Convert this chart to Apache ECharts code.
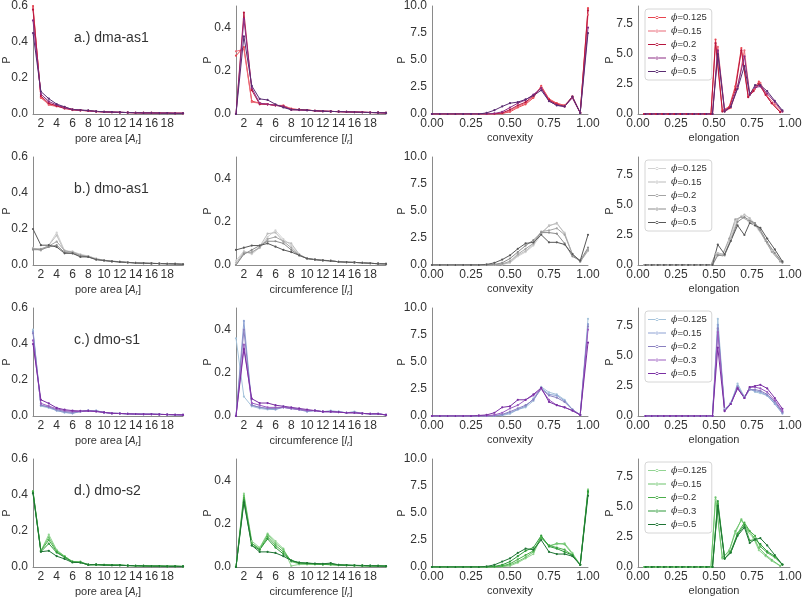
<!DOCTYPE html>
<html><head><meta charset="utf-8">
<script src="https://cdn.jsdelivr.net/npm/echarts@6/dist/echarts.min.js"></script>
<style>html,body{margin:0;padding:0;background:#fff}#c{width:803px;height:597px}</style>
</head><body><div id="c"></div>
<script>
// ---------- categories / labels ----------
const phiLabels = ['0.125', '0.15', '0.2', '0.3', '0.5'];
const rowTitles = ['a.) dma-as1', 'b.) dmo-as1', 'c.) dmo-s1', 'd.) dmo-s2'];
const sizeX = [1,2,3,4,5,6,7,8,9,10,11,12,13,14,15,16,17,18,19,20];
const convexityX = [0,0.05,0.1,0.15,0.2,0.25,0.3,0.35,0.4,0.45,0.5,0.55,0.6,0.65,0.7,0.75,0.8,0.85,0.9,0.95,1.0];
const elongXA = [0.04,0.08,0.12,0.16,0.2,0.24,0.28,0.32,0.36,0.4,0.44,0.48,0.51,0.555,0.6,0.64,0.68,0.725,0.76,0.795,0.84,0.88,0.935];
const elongXB = [0.05,0.09,0.13,0.17,0.21,0.25,0.29,0.33,0.37,0.41,0.45,0.49,0.525,0.57,0.61,0.655,0.7,0.735,0.77,0.805,0.85,0.9,0.95];
// which elongation grid each series uses (per row)
const elongGridUse = [
  ['A','B','A','B','B'],
  ['A','B','A','B','B'],
  ['B','B','B','B','B'],
  ['A','A','B','B','B']
];

// ---------- a.) dma-as1 ----------
const dmaAs1Area = [
  [0.60,0.090,0.055,0.045,0.038,0.025,0.020,0.018,0.014,0.012,0.010,0.009,0.008,0.007,0.006,0.006,0.005,0.005,0.004,0.004],
  [0.59,0.095,0.050,0.042,0.035,0.022,0.020,0.017,0.013,0.011,0.010,0.009,0.008,0.007,0.006,0.005,0.005,0.004,0.004,0.004],
  [0.58,0.100,0.060,0.045,0.030,0.024,0.021,0.018,0.014,0.012,0.010,0.009,0.008,0.007,0.006,0.006,0.005,0.005,0.004,0.004],
  [0.52,0.110,0.070,0.050,0.035,0.025,0.021,0.018,0.014,0.012,0.010,0.009,0.008,0.007,0.006,0.006,0.005,0.005,0.004,0.004],
  [0.45,0.125,0.085,0.055,0.040,0.025,0.022,0.020,0.015,0.012,0.011,0.010,0.008,0.007,0.006,0.006,0.005,0.005,0.004,0.004]
];
const dmaAs1Circ = [
  [0.27,0.31,0.06,0.05,0.045,0.04,0.038,0.025,0.02,0.018,0.015,0.013,0.012,0.011,0.01,0.009,0.008,0.007,0.006,0.005],
  [0.29,0.30,0.055,0.05,0.045,0.04,0.04,0.022,0.02,0.018,0.015,0.013,0.012,0.011,0.01,0.009,0.008,0.007,0.007,0.005],
  [0.0,0.47,0.11,0.045,0.045,0.04,0.035,0.02,0.02,0.018,0.015,0.013,0.012,0.011,0.01,0.009,0.008,0.007,0.006,0.005],
  [0.0,0.44,0.12,0.05,0.045,0.04,0.035,0.02,0.018,0.017,0.015,0.013,0.012,0.011,0.01,0.009,0.008,0.007,0.006,0.005],
  [0.0,0.36,0.13,0.07,0.065,0.045,0.03,0.02,0.02,0.018,0.015,0.013,0.012,0.011,0.01,0.009,0.008,0.007,0.006,0.005]
];
const dmaAs1Conv = [
  [0,0,0,0,0,0,0,0,0,0.05,0.2,0.6,0.9,1.5,2.6,1.4,1.0,0.8,1.6,0.1,9.8],
  [0,0,0,0,0,0,0,0,0,0.05,0.3,0.7,1.0,1.6,2.5,1.3,0.9,0.8,1.5,0.1,9.2],
  [0,0,0,0,0,0,0,0,0.02,0.1,0.4,0.8,1.1,1.7,2.4,1.3,0.9,0.7,1.6,0.1,9.6],
  [0,0,0,0,0,0,0,0,0.05,0.2,0.6,1.0,1.3,1.8,2.4,1.2,0.8,0.7,1.5,0.1,8.0],
  [0,0,0,0,0,0,0,0.1,0.35,0.7,1.0,1.1,1.35,1.7,2.2,1.2,0.8,0.7,1.6,0.1,7.5]
];
const dmaAs1Elong = [
  [0,0,0,0,0,0,0,0,0,0,0,0,6.2,0.3,0.6,2.3,5.5,1.5,2.0,2.7,1.6,0.9,0.2],
  [0,0,0,0,0,0,0,0,0,0,0,0,5.6,0.2,0.5,2.2,5.3,1.6,2.1,2.6,1.5,0.8,0.2],
  [0,0,0,0,0,0,0,0,0,0,0,0,5.9,0.2,0.5,2.0,5.3,1.4,1.9,2.5,1.6,0.9,0.15],
  [0,0,0,0,0,0,0,0,0,0,0,0,5.3,0.3,0.6,2.3,4.8,1.7,2.2,2.3,1.7,1.0,0.2],
  [0,0,0,0,0,0,0,0,0,0,0,0,5.0,0.2,0.6,2.1,4.0,1.6,2.4,2.4,1.9,1.1,0.3]
];

// ---------- b.) dmo-as1 ----------
const dmoAs1Area = [
  [0.09,0.085,0.11,0.18,0.08,0.075,0.06,0.05,0.035,0.027,0.022,0.018,0.015,0.012,0.01,0.009,0.008,0.007,0.006,0.004],
  [0.095,0.08,0.11,0.165,0.075,0.075,0.055,0.05,0.035,0.026,0.022,0.018,0.015,0.012,0.01,0.009,0.008,0.007,0.006,0.004],
  [0.09,0.09,0.105,0.13,0.08,0.07,0.055,0.045,0.032,0.025,0.021,0.017,0.014,0.012,0.01,0.009,0.008,0.007,0.006,0.004],
  [0.085,0.085,0.1,0.11,0.07,0.065,0.05,0.045,0.03,0.025,0.02,0.017,0.014,0.012,0.01,0.009,0.008,0.007,0.006,0.004],
  [0.2,0.11,0.11,0.1,0.065,0.065,0.045,0.045,0.03,0.025,0.02,0.017,0.014,0.011,0.01,0.009,0.008,0.007,0.006,0.004]
];
const dmoAs1Circ = [
  [0.02,0.065,0.05,0.08,0.13,0.16,0.12,0.09,0.05,0.03,0.025,0.022,0.02,0.015,0.013,0.012,0.01,0.008,0.006,0.005],
  [0.01,0.06,0.055,0.085,0.145,0.15,0.11,0.1,0.05,0.03,0.025,0.022,0.02,0.015,0.013,0.012,0.01,0.008,0.006,0.005],
  [0.0,0.055,0.06,0.08,0.12,0.13,0.11,0.08,0.045,0.03,0.025,0.022,0.019,0.015,0.013,0.012,0.01,0.008,0.006,0.005],
  [0.0,0.05,0.07,0.09,0.11,0.11,0.1,0.07,0.045,0.03,0.025,0.021,0.019,0.015,0.013,0.012,0.01,0.008,0.006,0.005],
  [0.07,0.08,0.09,0.09,0.1,0.085,0.07,0.06,0.045,0.03,0.025,0.021,0.019,0.015,0.013,0.012,0.01,0.008,0.006,0.005]
];
const dmoAs1Conv = [
  [0,0,0,0,0,0,0,0,0,0.05,0.2,0.8,1.2,1.8,2.8,3.7,3.8,3.0,1.0,0.3,1.5],
  [0,0,0,0,0,0,0,0,0,0.05,0.25,0.9,1.3,1.9,3.0,3.6,3.9,2.9,1.0,0.3,1.3],
  [0,0,0,0,0,0,0,0,0.02,0.1,0.35,1.0,1.5,2.0,3.1,3.2,3.4,2.8,1.0,0.3,1.4],
  [0,0,0,0,0,0,0,0,0.05,0.2,0.6,1.2,1.8,2.3,3.0,3.0,2.9,2.0,0.8,0.4,1.6],
  [0,0,0,0,0,0,0,0.05,0.2,0.5,0.9,1.5,2.0,2.1,2.8,2.1,2.1,1.9,1.0,0.4,2.8]
];
const dmoAs1Elong = [
  [0,0,0,0,0,0,0,0,0,0,0,0,0.9,0.9,2.0,3.6,4.1,3.8,3.4,2.9,2.0,1.2,0.3],
  [0,0,0,0,0,0,0,0,0,0,0,0,1.0,0.9,2.2,3.8,4.2,3.9,3.4,2.8,1.8,0.9,0.2],
  [0,0,0,0,0,0,0,0,0,0,0,0,0.9,0.8,2.2,3.8,4.0,3.7,3.5,3.0,2.0,1.1,0.3],
  [0,0,0,0,0,0,0,0,0,0,0,0,0.8,0.8,2.0,3.6,4.0,3.7,3.5,2.9,1.9,1.0,0.2],
  [0,0,0,0,0,0,0,0,0,0,0,0,1.7,0.9,2.0,3.3,2.5,3.5,3.3,3.1,2.2,1.3,0.3]
];

// ---------- c.) dmo-s1 ----------
const dmoS1Area = [
  [0.48,0.055,0.045,0.03,0.02,0.015,0.025,0.03,0.03,0.02,0.015,0.014,0.012,0.011,0.01,0.01,0.009,0.008,0.007,0.006],
  [0.47,0.06,0.05,0.03,0.02,0.015,0.025,0.03,0.028,0.02,0.015,0.014,0.012,0.011,0.01,0.01,0.009,0.008,0.007,0.006],
  [0.46,0.06,0.05,0.035,0.025,0.02,0.025,0.03,0.028,0.02,0.015,0.014,0.012,0.011,0.01,0.01,0.009,0.008,0.007,0.006],
  [0.42,0.07,0.055,0.04,0.03,0.025,0.025,0.028,0.025,0.02,0.015,0.014,0.012,0.011,0.01,0.01,0.009,0.008,0.007,0.006],
  [0.4,0.09,0.07,0.045,0.035,0.03,0.028,0.028,0.025,0.02,0.015,0.014,0.012,0.011,0.01,0.01,0.009,0.008,0.007,0.006]
];
const dmoS1Circ = [
  [0.36,0.09,0.045,0.035,0.03,0.03,0.045,0.035,0.03,0.025,0.025,0.02,0.025,0.02,0.015,0.02,0.012,0.01,0.01,0.005],
  [0.0,0.44,0.05,0.04,0.035,0.03,0.04,0.035,0.03,0.02,0.025,0.02,0.02,0.02,0.015,0.018,0.012,0.01,0.01,0.005],
  [0.0,0.4,0.05,0.04,0.035,0.035,0.04,0.035,0.03,0.025,0.025,0.02,0.02,0.018,0.015,0.015,0.012,0.01,0.01,0.005],
  [0.0,0.33,0.06,0.05,0.04,0.04,0.04,0.035,0.03,0.025,0.025,0.02,0.02,0.018,0.015,0.015,0.012,0.01,0.01,0.005],
  [0.0,0.31,0.08,0.06,0.06,0.05,0.045,0.04,0.035,0.03,0.025,0.02,0.02,0.018,0.015,0.015,0.012,0.01,0.01,0.005]
];
const dmoS1Conv = [
  [0,0,0,0,0,0,0,0,0,0.05,0.2,0.6,0.8,1.4,2.7,2.2,2.0,1.5,0.6,0.1,9.0],
  [0,0,0,0,0,0,0,0,0,0.1,0.3,0.6,0.9,1.6,2.6,2.0,1.9,1.4,0.6,0.1,8.5],
  [0,0,0,0,0,0,0,0,0.03,0.15,0.4,0.7,1.0,1.5,2.5,1.9,1.7,1.3,0.6,0.1,8.3],
  [0,0,0,0,0,0,0,0.02,0.1,0.3,0.7,1.0,1.5,1.9,2.5,1.5,1.0,0.8,0.5,0.1,8.0],
  [0,0,0,0,0,0,0.05,0.1,0.3,0.8,0.9,1.5,1.5,2.0,2.6,1.3,1.0,0.8,0.5,0.1,6.8]
];
const dmoS1Elong = [
  [0,0,0,0,0,0,0,0,0,0,0,0,8.1,0.6,1.0,2.7,1.6,2.3,2.0,1.9,1.7,1.1,0.3],
  [0,0,0,0,0,0,0,0,0,0,0,0,7.6,0.5,1.1,2.5,1.5,2.2,2.1,2.0,1.7,1.0,0.2],
  [0,0,0,0,0,0,0,0,0,0,0,0,7.3,0.5,1.0,2.4,1.6,2.2,2.2,2.1,1.8,1.2,0.3],
  [0,0,0,0,0,0,0,0,0,0,0,0,7.0,0.5,1.0,2.3,1.5,2.4,2.4,2.3,2.0,1.3,0.4],
  [0,0,0,0,0,0,0,0,0,0,0,0,5.7,0.4,1.0,2.3,1.5,2.4,2.5,2.6,2.3,1.5,0.6]
];

// ---------- d.) dmo-s2 ----------
const dmoS2Area = [
  [0.42,0.09,0.18,0.095,0.06,0.03,0.03,0.013,0.014,0.012,0.011,0.01,0.008,0.007,0.006,0.005,0.005,0.004,0.004,0.003],
  [0.42,0.09,0.165,0.09,0.06,0.03,0.028,0.013,0.013,0.012,0.011,0.01,0.008,0.007,0.006,0.005,0.005,0.004,0.004,0.003],
  [0.42,0.09,0.15,0.085,0.055,0.028,0.025,0.012,0.013,0.012,0.01,0.01,0.008,0.007,0.006,0.005,0.005,0.004,0.004,0.003],
  [0.41,0.085,0.13,0.08,0.055,0.028,0.025,0.012,0.013,0.011,0.01,0.01,0.008,0.007,0.006,0.005,0.005,0.004,0.004,0.003],
  [0.41,0.085,0.09,0.06,0.045,0.025,0.025,0.013,0.013,0.011,0.01,0.01,0.008,0.007,0.006,0.005,0.005,0.004,0.004,0.003]
];
const dmoS2Circ = [
  [0,0.34,0.12,0.09,0.155,0.12,0.085,0.005,0.012,0.012,0.012,0.012,0.01,0.008,0.007,0.006,0.006,0.005,0.004,0.004],
  [0,0.33,0.11,0.085,0.15,0.11,0.08,0.025,0.015,0.014,0.013,0.012,0.011,0.009,0.008,0.007,0.006,0.005,0.005,0.004],
  [0,0.32,0.11,0.08,0.14,0.1,0.07,0.03,0.018,0.016,0.014,0.012,0.012,0.009,0.008,0.007,0.006,0.005,0.005,0.004],
  [0,0.31,0.1,0.08,0.13,0.09,0.06,0.03,0.02,0.018,0.015,0.013,0.014,0.01,0.008,0.007,0.006,0.005,0.005,0.004],
  [0,0.3,0.1,0.07,0.07,0.065,0.05,0.03,0.02,0.018,0.016,0.015,0.018,0.01,0.009,0.008,0.007,0.006,0.005,0.004]
];
const dmoS2Conv = [
  [0,0,0,0,0,0,0,0,0,0.03,0.1,0.4,0.8,1.2,2.8,2.0,2.1,2.2,1.3,0.2,7.2],
  [0,0,0,0,0,0,0,0,0,0.05,0.2,0.5,0.9,1.4,2.8,1.9,2.2,2.1,1.2,0.2,7.1],
  [0,0,0,0,0,0,0,0,0.03,0.1,0.3,0.7,1.1,1.5,2.7,2.0,1.8,1.6,1.1,0.2,6.9],
  [0,0,0,0,0,0,0,0,0.05,0.2,0.5,1.0,1.5,1.8,2.9,1.9,1.7,1.4,1.1,0.2,7.0],
  [0,0,0,0,0,0,0,0.05,0.2,0.5,0.8,1.3,1.7,1.6,2.5,1.4,1.2,1.2,1.0,0.2,6.6]
];
const dmoS2Elong = [
  [0,0,0,0,0,0,0,0,0,0,0,0,5.6,0.7,1.4,2.8,4.0,2.9,2.4,1.4,0.9,0.5,0.1],
  [0,0,0,0,0,0,0,0,0,0,0,0,5.8,0.8,1.3,3.0,3.9,3.1,2.5,1.6,1.0,0.6,0.1],
  [0,0,0,0,0,0,0,0,0,0,0,0,5.3,0.7,1.3,2.8,3.7,3.0,2.6,1.7,1.2,0.8,0.2],
  [0,0,0,0,0,0,0,0,0,0,0,0,5.5,0.7,1.2,2.7,3.5,2.2,2.3,1.9,1.3,0.9,0.2],
  [0,0,0,0,0,0,0,0,0,0,0,0,5.1,0.7,1.2,2.6,3.3,2.0,2.3,2.4,1.8,1.0,0.2]
];

// ---------- styles ----------
const rowColors = [
  ['#e8444f', '#ea6a78', '#b8163f', '#8c2c84', '#5a2c72'],
  ['#d2d2d2', '#bcbcbc', '#a4a4a4', '#8c8c8c', '#585858'],
  ['#a5c3db', '#8da2d3', '#8a80c0', '#9b5cc0', '#7a2fa3'],
  ['#92d492', '#6cc46c', '#4bae4b', '#2e9a3a', '#1f7535']
];
const FONT = '"Liberation Sans", Arial, sans-serif';
const colLeft = [33, 236, 432, 638];
const colWidth = [150, 150, 156, 152];
const rowTop = [6, 157, 308, 459];
const gridH = 108;
const AX = '#8a8a8a', TXT = '#333';
const LEGEND_ICON = 'path://M0,4 L18,4 L18,5 L0,5 Z M7.5,4.5 A1.5,1.5 0 1,0 10.5,4.5 A1.5,1.5 0 1,0 7.5,4.5 Z';

const panels = [
  [dmaAs1Area, dmaAs1Circ, dmaAs1Conv, dmaAs1Elong],
  [dmoAs1Area, dmoAs1Circ, dmoAs1Conv, dmoAs1Elong],
  [dmoS1Area, dmoS1Circ, dmoS1Conv, dmoS1Elong],
  [dmoS2Area, dmoS2Circ, dmoS2Conv, dmoS2Elong]
];
const xNames = ['pore area [{it|A}{sub|r}]', 'circumference [{it|l}{sub|r}]', 'convexity', 'elongation'];
const yMax = [0.6, 0.5, 10, 9];
const yInt = [0.2, 0.2, 2.5, 2.5];
const yGap = [21, 23, 25, 23];

const grid = [], xAxis = [], yAxis = [], series = [], legend = [], title = [];
const richName = {
  it: { fontStyle: 'italic', fontSize: 11, color: TXT, fontFamily: FONT },
  sub: { fontStyle: 'italic', fontSize: 7.5, color: TXT, fontFamily: FONT, padding: [6, 0, 0, 0] }
};
for (let r = 0; r < 4; r++) {
  for (let c = 0; c < 4; c++) {
    const gi = r * 4 + c;
    grid.push({ left: colLeft[c], top: rowTop[r], width: colWidth[c], height: gridH, containLabel: false, outerBoundsMode: 'none' });
    const isSize = c < 2;
    xAxis.push({
      type: 'value', gridIndex: gi,
      min: isSize ? 1 : 0, max: isSize ? 20 : 1, interval: isSize ? 1 : 0.25,
      axisLine: { show: true, onZero: false, lineStyle: { color: AX, width: 1 } },
      axisTick: { show: false }, splitLine: { show: false },
      axisLabel: {
        color: TXT, fontSize: 12, margin: 4, fontFamily: FONT,
        showMinLabel: true, showMaxLabel: true,
        formatter: isSize ? (v => (v % 2 === 0 && v < 20) ? String(v) : '') : (v => v.toFixed(2))
      },
      name: xNames[c], nameLocation: 'middle', nameGap: 18,
      nameTextStyle: { color: TXT, fontSize: 11, fontFamily: FONT, rich: richName }
    });
    yAxis.push({
      type: 'value', gridIndex: gi, min: 0, max: yMax[c], interval: yInt[c],
      axisLine: { show: true, onZero: false, lineStyle: { color: AX, width: 1 } },
      axisTick: { show: false }, splitLine: { show: false },
      axisLabel: {
        color: TXT, fontSize: 12, margin: 5, fontFamily: FONT,
        showMaxLabel: (c === 0 || c === 2),
        formatter: v => v.toFixed(1)
      },
      name: 'P', nameLocation: 'middle', nameRotate: 90, nameGap: yGap[c], nameMoveOverlap: false,
      nameTextStyle: { color: TXT, fontSize: 11, fontFamily: FONT }
    });
    const vals = panels[r][c];
    for (let k = 0; k < 5; k++) {
      let xs;
      if (c < 2) xs = sizeX;
      else if (c === 2) xs = convexityX;
      else xs = elongGridUse[r][k] === 'A' ? elongXA : elongXB;
      const data = vals[k].map((y, i) => [xs[i], y]);
      const name = 'r' + r + '|' + phiLabels[k];
      series.push({
        type: 'line', name: name, xAxisIndex: gi, yAxisIndex: gi, data: data,
        symbol: 'circle', symbolSize: 2.2, showSymbol: true,
        lineStyle: { width: 1, color: rowColors[r][k] },
        itemStyle: { color: rowColors[r][k] },
        emphasis: { disabled: true }, silent: true, animation: false, clip: true
      });
    }
  }
  legend.push({
    orient: 'vertical', left: 645, top: rowTop[r] + 3,
    data: phiLabels.map(p => ({ name: 'r' + r + '|' + p, icon: LEGEND_ICON })),
    formatter: n => '{i|ϕ}=' + n.split('|')[1],
    itemWidth: 18, itemHeight: 3, itemGap: 2.5,
    padding: [3, 5, 3, 3],
    borderColor: '#d6d6d6', borderWidth: 1, borderRadius: 3, backgroundColor: '#fff',
    textStyle: { fontSize: 9.5, color: TXT, fontFamily: FONT, lineHeight: 11,
      rich: { i: { fontStyle: 'italic', fontSize: 9.5, color: TXT, fontFamily: 'DejaVu Serif' } } },
    selectedMode: false
  });
  title.push({
    text: rowTitles[r], left: 74, top: rowTop[r] + 25, padding: 0,
    textStyle: { fontSize: 14, fontWeight: 'normal', color: TXT, fontFamily: FONT }
  });
}

const chart = echarts.init(document.getElementById('c'), null, { renderer: 'canvas' });
chart.setOption({
  animation: false,
  backgroundColor: '#fff',
  textStyle: { fontFamily: FONT },
  title: title, legend: legend, grid: grid, xAxis: xAxis, yAxis: yAxis, series: series,
  tooltip: { show: false }
});
</script>
</body></html>
